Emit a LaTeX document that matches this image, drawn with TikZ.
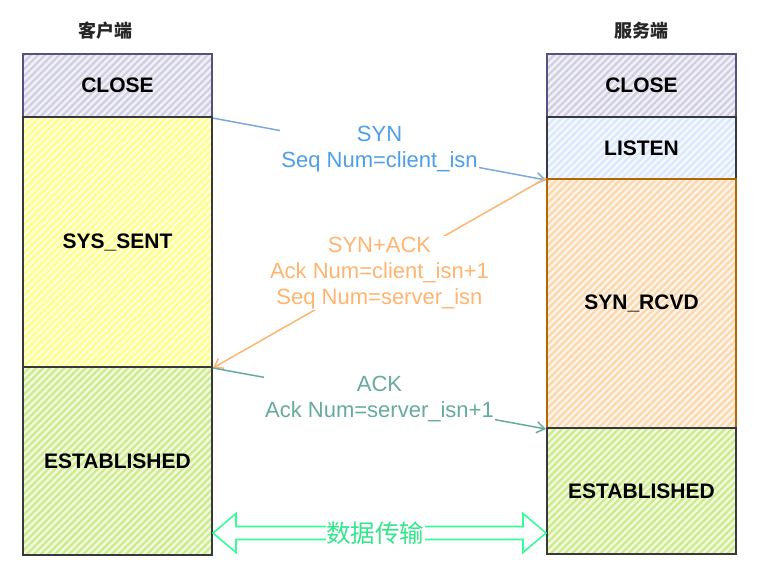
\documentclass[tikz,border=0pt]{standalone}
\usepackage{fontspec}
\setmainfont{Liberation Sans}
\newfontfamily\cjkfont{Noto Sans CJK SC}
\usetikzlibrary{patterns.meta,arrows.meta,calc}
\definecolor{closefill}{HTML}{D0CEE2}
\definecolor{closeline}{HTML}{56517E}
\definecolor{sentfill}{HTML}{FFFF88}
\definecolor{estfill}{HTML}{CDEB8B}
\definecolor{listenfill}{HTML}{DAE8FC}
\definecolor{rcvdfill}{HTML}{FAD7AC}
\definecolor{rcvdline}{HTML}{B46504}
\definecolor{darkline}{HTML}{36393D}
\definecolor{synline}{HTML}{7EA6E0}
\definecolor{syntext}{HTML}{4D9FEA}
\definecolor{sackcol}{HTML}{FFB570}
\definecolor{ackcol}{HTML}{67AB9F}
\definecolor{datacol}{HTML}{33FF99}
\definecolor{datatext}{HTML}{33E68C}
\begin{document}
\begin{tikzpicture}[x=1pt,y=-1pt,
  statebox/.style={line width=2pt, minimum width=189pt, inner sep=0pt,
    font=\fontsize{21}{24}\selectfont\bfseries, text=black},
  hatch/.style={preaction={fill=#1!30!white},
    pattern={Lines[angle=45,distance=5pt,line width=2.2pt]}, pattern color=#1},
  title/.style={font=\cjkfont\bfseries\fontsize{18}{20}\selectfont, text=black!85},
  msg/.style={line width=1.5pt},
  lbl/.style={fill=white, inner sep=1pt, align=center, font=\fontsize{22}{26}\selectfont},
  tip/.style={-{Straight Barb[length=8pt,width=11pt,line width=1.5pt]}},
  datarr/.style={draw=datacol, line width=1.6pt, fill=white},
  datalbl/.style={fill=white, inner sep=0.5pt, text=datatext, font=\cjkfont\fontsize{24.5}{26}\selectfont}
]
\useasboundingbox (0,0) rectangle (771,581);

% titles
\node[title] (tclient) at (105,31) {客户端};
\node[title] (tserver) at (641.5,31) {服务端};

% client column
\node[statebox, draw=closeline, hatch=closefill, minimum height=63pt] (lclose) at (117.5,85.5) {CLOSE};
\node[statebox, draw=darkline, hatch=sentfill, minimum height=250pt] (lsent) at (117.5,242) {SYS\_SENT};
\node[statebox, draw=darkline, hatch=estfill, minimum height=188pt] (lest) at (117.5,461) {ESTABLISHED};

% server column
\node[statebox, draw=closeline, hatch=closefill, minimum height=63pt] (rclose) at (641.5,85.5) {CLOSE};
\node[statebox, draw=darkline, hatch=listenfill, minimum height=62pt] (rlisten) at (641.5,148) {LISTEN};
\node[statebox, draw=rcvdline, hatch=rcvdfill, minimum height=249pt] (rrcvd) at (641.5,303.5) {SYN\_RCVD};
\node[statebox, draw=darkline, hatch=estfill, minimum height=126pt] (rest) at (641.5,491) {ESTABLISHED};

% handshake messages
\draw[msg, draw=synline, tip] (lclose.south east) -- node[lbl, text=syntext] (synlbl) {SYN\\Seq Num=client\_isn} (rlisten.south west);
\draw[msg, draw=sackcol, tip] (rrcvd.north west) -- node[lbl, text=sackcol] (sacklbl) {SYN+ACK\\Ack Num=client\_isn+1\\Seq Num=server\_isn} (lsent.south east);
\draw[msg, draw=ackcol, tip] (lsent.south east) -- node[lbl, text=ackcol] (acklbl) {ACK\\Ack Num=server\_isn+1} (rrcvd.south west);

% data transfer double arrow
\coordinate (dl) at (213,533);
\coordinate (dr) at (546,533);
\draw[datarr] (dl) -- ($(dl)+(23,-19.5)$) -- ($(dl)+(23,-6.5)$) -- ($(dr)+(-23,-6.5)$)
  -- ($(dr)+(-23,-19.5)$) -- (dr) -- ($(dr)+(-23,19.5)$) -- ($(dr)+(-23,6.5)$)
  -- ($(dl)+(23,6.5)$) -- ($(dl)+(23,19.5)$) -- cycle;
\node[datalbl] (dtext) at (375,533) {数据传输};
\end{tikzpicture}
\end{document}
